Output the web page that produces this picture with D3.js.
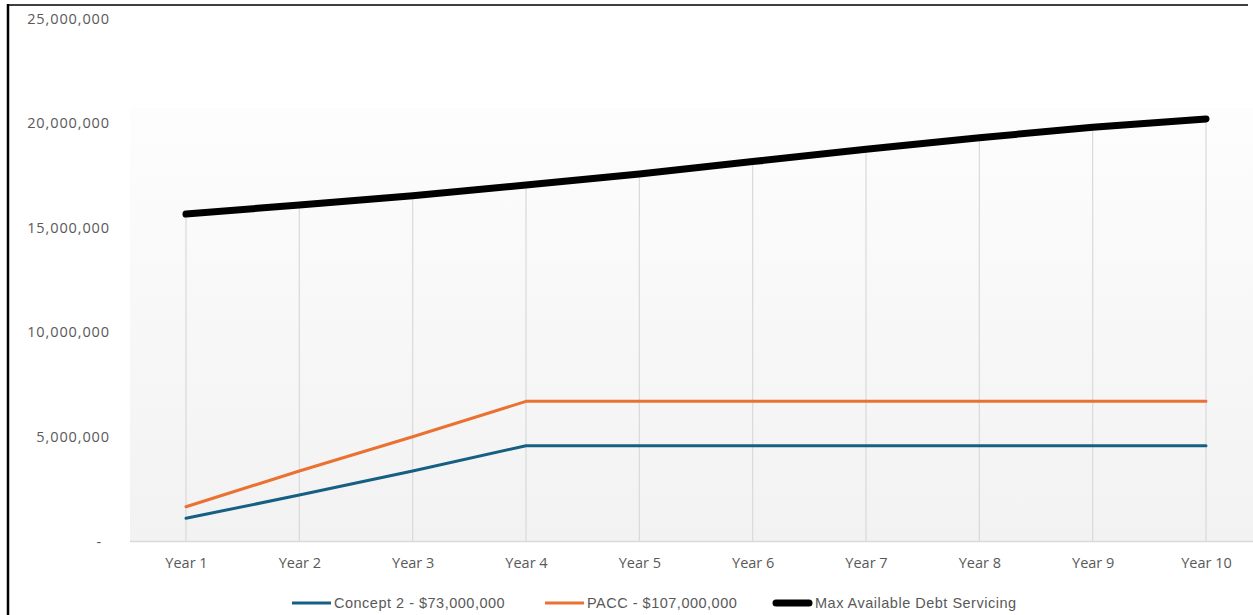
<!DOCTYPE html>
<html>
<head>
<meta charset="utf-8">
<script src="https://cdn.jsdelivr.net/npm/d3@7"></script>
<style>
  html, body { margin: 0; padding: 0; background: #fff; overflow: hidden; }
  svg { display: block; }
</style>
</head>
<body>
<script>
(function(){

	var years = ["Year 1","Year 2","Year 3","Year 4","Year 5","Year 6","Year 7","Year 8","Year 9","Year 10"];
	var concept2 = [1110000, 2220000, 3370000, 4580000, 4580000, 4580000, 4580000, 4580000, 4580000, 4580000];
	var pacc = [1660000, 3370000, 5010000, 6700000, 6700000, 6700000, 6700000, 6700000, 6700000, 6700000];
	var maxDebt = [15650000, 16090000, 16530000, 17040000, 17570000, 18160000, 18750000, 19300000, 19800000, 20200000];
	var yTicks = [0, 5000000, 10000000, 15000000, 20000000, 25000000];
	var seriesNames = ["Concept 2 - $73,000,000", "PACC - $107,000,000", "Max Available Debt Servicing"];

	const W = 1253, H = 615;
	const FONT = "'Open Sans', 'Liberation Sans', sans-serif";
	const LEGEND_FONT = "'Liberation Sans', Arial, sans-serif";

	var series = [
		{ name: seriesNames[0], values: concept2, color: "#156082", width: 3 },
		{ name: seriesNames[1], values: pacc, color: "#E97132", width: 3 },
		{ name: seriesNames[2], values: maxDebt, color: "#000000", width: 7 }
	];

	var x = d3.scalePoint().domain(years).range([186, 1206]);
	var y = d3.scaleLinear().domain([0, 25000000]).range([541.5, 18.5]);

	var svg = d3.select("body").append("svg")
		.attr("width", W).attr("height", H);

	// frame lines (cropped chart border)
	svg.append("line").attr("x1", 8).attr("x2", 8).attr("y1", 4).attr("y2", H)
		.attr("stroke", "#000").attr("stroke-width", 2.5);
	svg.append("line").attr("x1", 7).attr("x2", 1248).attr("y1", 5).attr("y2", 5)
		.attr("stroke", "#000").attr("stroke-width", 1.5);

	// plot area gradient
	var grad = svg.append("defs").append("linearGradient")
		.attr("id", "plotGrad").attr("x1", 0).attr("x2", 0).attr("y1", 0).attr("y2", 1);
	grad.append("stop").attr("offset", "0%").attr("stop-color", "#fdfdfd");
	grad.append("stop").attr("offset", "100%").attr("stop-color", "#f2f2f2");

	svg.append("rect")
		.attr("x", 130).attr("y", 108)
		.attr("width", W - 130).attr("height", y(0) - 108)
		.attr("fill", "url(#plotGrad)");

	// drop lines
	svg.append("g").selectAll("line").data(years).enter().append("line")
		.attr("x1", d => x(d)).attr("x2", d => x(d))
		.attr("y1", (d, i) => y(maxDebt[i]))
		.attr("y2", y(0))
		.attr("stroke", "#d9d9d9").attr("stroke-width", 1.2);

	// x axis
	var xAxis = svg.append("g")
		.attr("transform", "translate(0," + y(0) + ")")
		.call(d3.axisBottom(x).tickSize(0).tickPadding(16));
	xAxis.select(".domain").attr("d", "M130,0H" + W).attr("stroke", "#d9d9d9").attr("stroke-width", 1.5);
	xAxis.selectAll("text")
		.attr("font-family", FONT).attr("font-size", 14.5).attr("fill", "#595959");

	// y axis
	var yAxis = svg.append("g")
		.attr("transform", "translate(110,0)")
		.call(d3.axisLeft(y).tickValues(yTicks).tickSize(0).tickPadding(0)
			.tickFormat(d => d === 0 ? "-" : d3.format(",")(d)));
	yAxis.select(".domain").remove();
	yAxis.selectAll("text")
		.attr("font-family", FONT).attr("font-size", 14.5).attr("fill", "#595959")
		.attr("letter-spacing", 0.9);
	yAxis.selectAll(".tick").filter(d => d === 0).select("text").attr("dx", -8);

	// lines
	var line = d3.line().x((d, i) => x(years[i])).y(d => y(d));
	svg.append("g").selectAll("path").data(series).enter().append("path")
		.attr("d", d => line(d.values))
		.attr("fill", "none")
		.attr("stroke", d => d.color)
		.attr("stroke-width", d => d.width)
		.attr("stroke-linecap", "round")
		.attr("stroke-linejoin", "round");

	// legend
	var legendX = [292, 545, 773];
	var legend = svg.append("g").selectAll("g").data(series).enter().append("g")
		.attr("transform", (d, i) => "translate(" + legendX[i] + ",603)");
	legend.append("line")
		.attr("x1", d => d.width > 3 ? 3 : 0).attr("x2", d => d.width > 3 ? 36 : 39)
		.attr("y1", 0).attr("y2", 0)
		.attr("stroke", d => d.color).attr("stroke-width", d => d.width)
		.attr("stroke-linecap", d => d.width > 3 ? "round" : "butt");
	legend.append("text")
		.attr("x", 42).attr("y", 0).attr("dy", "0.35em")
		.attr("font-family", LEGEND_FONT).attr("font-size", 14.5).attr("fill", "#595959")
		.attr("letter-spacing", 0.5)
		.text(d => d.name);

})();
</script>
</body>
</html>
